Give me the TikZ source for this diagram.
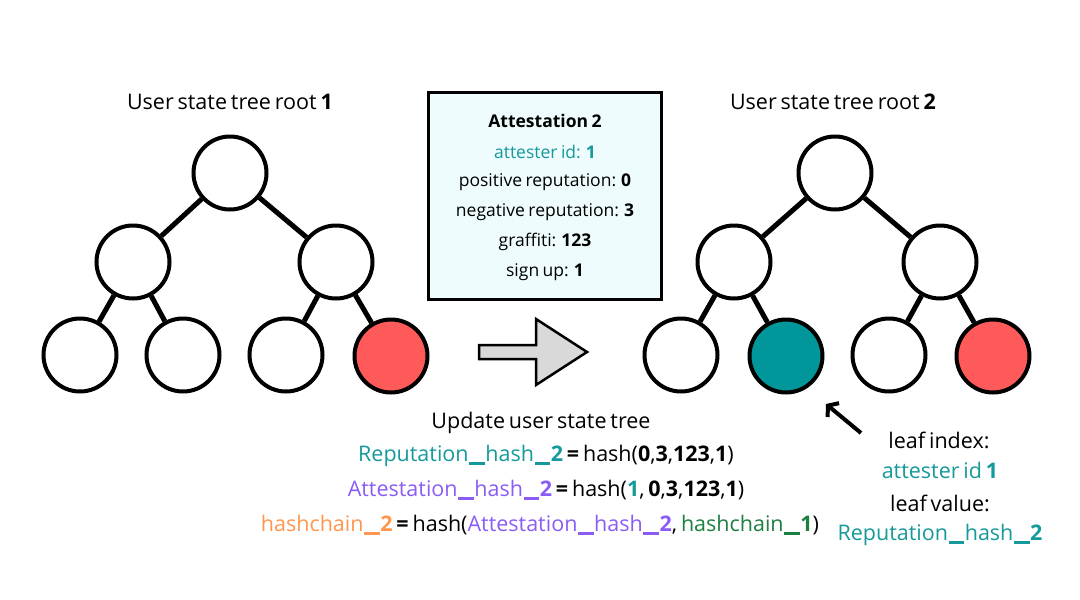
\documentclass[tikz,border=0pt]{standalone}
\usepackage{fontspec}
\setmainfont{Open Sans}
\usetikzlibrary{arrows.meta}
\definecolor{tealc}{HTML}{00969A}
\definecolor{tealt}{HTML}{15999B}
\definecolor{redc}{HTML}{FF5A5A}
\definecolor{purp}{HTML}{8A5CF5}
\definecolor{orng}{HTML}{FF9650}
\definecolor{grn}{HTML}{1C8040}
\definecolor{boxfill}{HTML}{EEFCFD}
\newcommand{\dg}[1]{\textbf{#1}}
\newcommand{\us}{\kern0.03em\rule[-0.17em]{0.72em}{0.13em}\kern0.03em}
\newcommand{\bigtxt}{\fontsize{21.5}{23}\selectfont\spaceskip=0.18em\relax}
\newcommand{\boxtxt}{\fontsize{17.5}{20}\selectfont\spaceskip=0.2em\relax}
\tikzset{
  tn/.style={circle,draw=black,line width=4pt,fill=white,minimum size=73pt,inner sep=0pt},
  edge/.style={line width=5pt},
  lbl/.style={font=\bigtxt,inner sep=0pt,anchor=center},
  blbl/.style={font=\boxtxt,inner sep=0pt,anchor=center},
}
\begin{document}
\begin{tikzpicture}[x=1pt,y=-1pt]
\useasboundingbox (0,0) rectangle (1080,600);
% left tree
\node[lbl] (t1) at (230,102) {User state tree root \dg{1}};
\node[tn] (a) at (230,173) {};
\node[tn] (b) at (133,262) {};
\node[tn] (c) at (336,262) {};
\node[tn] (d) at (80,355) {};
\node[tn] (e) at (183,355) {};
\node[tn] (f) at (286,355) {};
\node[tn,fill=redc] (g) at (391,356) {};
\draw[edge] (a) -- (b); \draw[edge] (a) -- (c);
\draw[edge] (b) -- (d); \draw[edge] (b) -- (e);
\draw[edge] (c) -- (f); \draw[edge] (c) -- (g);
% right tree
\node[lbl] (t2) at (833,102) {User state tree root \dg{2}};
\node[tn] (A) at (835,173) {};
\node[tn] (B) at (734,262) {};
\node[tn] (C) at (940,262) {};
\node[tn] (D) at (681,355) {};
\node[tn,fill=tealc] (E) at (786,356) {};
\node[tn] (F) at (889,355) {};
\node[tn,fill=redc] (G) at (993,356) {};
\draw[edge] (A) -- (B); \draw[edge] (A) -- (C);
\draw[edge] (B) -- (D); \draw[edge] (B) -- (E);
\draw[edge] (C) -- (F); \draw[edge] (C) -- (G);
% box
\node[draw=black,line width=2.5pt,fill=boxfill,minimum width=233pt,minimum height=207pt,inner sep=0pt] (box) at (545,196) {};
\node[blbl] (bt) at (545,121) {\textbf{Attestation 2}};
\node[blbl,text=tealt] (b1) at (545,152) {attester id: \dg{1}};
\node[blbl] (b2) at (545,182) {positive reputation: \dg{0}};
\node[blbl] (b3) at (545,212) {negative reputation: \dg{3}};
\node[blbl] (b4) at (545,242) {graffiti: \dg{123}};
\node[blbl] (b5) at (545,272) {sign up: \dg{1}};
% big arrow
\draw[line width=2.5pt,fill=black!15,line join=miter]
  (479,345) -- (536,345) -- (536,319) -- (587,352) -- (536,385) -- (536,359) -- (479,359) -- cycle;
% bottom text
\node[lbl] (u0) at (541,423) {Update user state tree};
\node[lbl] (u1) at (546,456) {\textcolor{tealt}{Reputation\us hash\us\dg{2}} \dg{=} hash(\dg{0},\dg{3},\dg{123},\dg{1})};
\node[lbl] (u2) at (546,490) {\textcolor{purp}{Attestation\us hash\us\dg{2}} \dg{=} hash(\textcolor{tealt}{\dg{1}}, \dg{0},\dg{3},\dg{123},\dg{1})};
\node[lbl] (u3) at (540,525) {\textcolor{orng}{hashchain\us\dg{2}} \dg{=} hash(\textcolor{purp}{Attestation\us hash\us\dg{2}}, \textcolor{grn}{hashchain\us\dg{1}})};
% right labels
\node[lbl] (r1) at (939,440) {leaf index:};
\node[lbl,text=tealt] (r2) at (940,470) {attester id \dg{1}};
\node[lbl] (r3) at (940,503) {leaf value:};
\node[lbl,text=tealt] (r4) at (940,535) {Reputation\us hash\us\dg{2}};
\coordinate (p0) at (861,433);
\coordinate (p1) at (826,404);
\draw[line width=4pt,-{Straight Barb[length=7pt,width=18pt,line width=4pt]}] (p0) -- (p1);
\end{tikzpicture}
\end{document}
